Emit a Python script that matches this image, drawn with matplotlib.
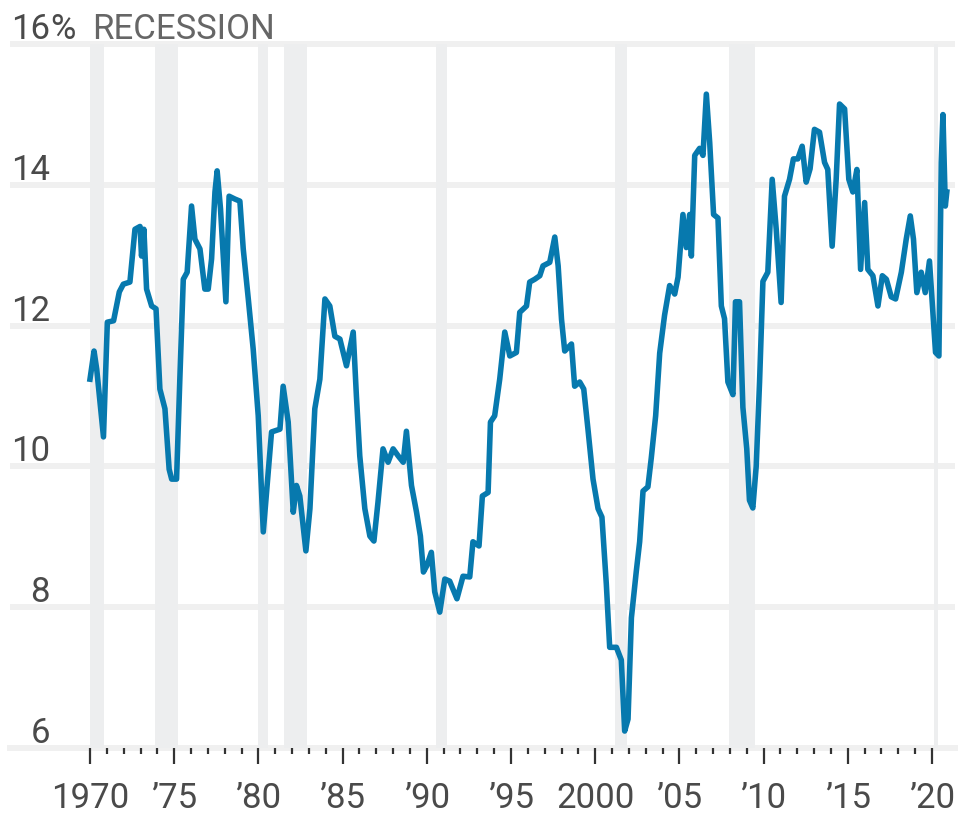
import matplotlib.pyplot as plt

plt.rcParams['font.family'] = ['Roboto', 'DejaVu Sans']

# traced series (decimal year, percent)
years = [1970.0, 1970.24, 1970.4, 1970.8, 1971.03, 1971.4, 1971.74, 1971.98, 1972.37, 1972.67,
         1972.97, 1973.06, 1973.2, 1973.36, 1973.66, 1973.92, 1974.15, 1974.45, 1974.7, 1974.85,
         1975.14, 1975.34, 1975.54, 1975.77, 1976.03, 1976.23, 1976.53, 1976.82, 1977.02, 1977.22,
         1977.42, 1977.55, 1977.75, 1978.07, 1978.26, 1978.6, 1978.9, 1979.1, 1979.4, 1979.69,
         1979.99, 1980.29, 1980.78, 1981.28, 1981.47, 1981.77, 1982.07, 1982.26, 1982.46, 1982.82,
         1983.06, 1983.35, 1983.65, 1983.95, 1984.24, 1984.54, 1984.84, 1985.23, 1985.63, 1985.82,
         1986.02, 1986.32, 1986.62, 1986.86, 1987.1, 1987.4, 1987.7, 1988.0, 1988.3, 1988.6,
         1988.79, 1989.09, 1989.39, 1989.62, 1989.8, 1990.0, 1990.27, 1990.47, 1990.77, 1991.07,
         1991.36, 1991.79, 1992.15, 1992.55, 1992.74, 1993.1, 1993.3, 1993.64, 1993.78, 1994.03,
         1994.33, 1994.63, 1994.93, 1995.32, 1995.52, 1995.92, 1996.11, 1996.41, 1996.71, 1996.9,
         1997.3, 1997.6, 1997.8, 1998.0, 1998.19, 1998.59, 1998.78, 1999.08, 1999.32, 1999.57,
         1999.87, 2000.17, 2000.4, 2000.66, 2000.86, 2001.26, 2001.55, 2001.75, 2001.95, 2002.15,
         2002.44, 2002.64, 2002.84, 2003.13, 2003.33, 2003.59, 2003.83, 2004.12, 2004.42, 2004.72,
         2004.92, 2005.21, 2005.41, 2005.61, 2005.71, 2005.91, 2006.2, 2006.4, 2006.6, 2006.8,
         2007.03, 2007.29, 2007.49, 2007.68, 2007.88, 2008.18, 2008.33, 2008.57, 2008.77, 2009.0,
         2009.16, 2009.36, 2009.56, 2009.76, 2009.96, 2010.25, 2010.51, 2010.75, 2011.04, 2011.24,
         2011.54, 2011.77, 2012.03, 2012.29, 2012.53, 2012.76, 2013.02, 2013.32, 2013.62, 2013.81,
         2014.07, 2014.31, 2014.51, 2014.81, 2015.06, 2015.3, 2015.54, 2015.76, 2016.0, 2016.19,
         2016.49, 2016.79, 2017.05, 2017.29, 2017.58, 2017.84, 2018.18, 2018.47, 2018.71, 2018.9,
         2019.1, 2019.36, 2019.6, 2019.85, 2020.05, 2020.21, 2020.41, 2020.55, 2020.65, 2020.79,
         2020.88]
values = [11.24, 11.64, 11.38, 10.42, 12.05, 12.07, 12.48, 12.59, 12.62, 13.37,
          13.41, 12.99, 13.37, 12.52, 12.28, 12.24, 11.1, 10.82, 9.96, 9.82,
          9.82, 11.28, 12.66, 12.76, 13.7, 13.23, 13.09, 12.52, 12.52, 12.95,
          13.9, 14.2, 13.66, 12.34, 13.84, 13.8, 13.77, 13.09, 12.38, 11.67,
          10.72, 9.07, 10.49, 10.53, 11.14, 10.63, 9.35, 9.73, 9.58, 8.8,
          9.4, 10.82, 11.24, 12.38, 12.28, 11.85, 11.81, 11.43, 11.91, 11.0,
          10.15, 9.4, 9.01, 8.94, 9.49, 10.25, 10.06, 10.25, 10.15, 10.06,
          10.5, 9.73, 9.35, 9.01, 8.5, 8.59, 8.78, 8.22, 7.93, 8.4,
          8.37, 8.12, 8.44, 8.43, 8.93, 8.87, 9.58, 9.63, 10.63, 10.72,
          11.24, 11.91, 11.57, 11.62, 12.19, 12.28, 12.62, 12.66, 12.71, 12.85,
          12.9, 13.26, 12.85, 12.09, 11.64, 11.74, 11.14, 11.2, 11.1, 10.53,
          9.82, 9.4, 9.28, 8.33, 7.43, 7.43, 7.25, 6.24, 6.41, 7.85,
          8.51, 8.93, 9.65, 9.71, 10.12, 10.72, 11.61, 12.15, 12.57, 12.45,
          12.69, 13.58, 13.11, 13.58, 12.99, 14.42, 14.52, 14.42, 15.29, 14.6,
          13.58, 13.53, 12.28, 12.1, 11.2, 11.02, 12.34, 12.34, 10.84, 10.25,
          9.52, 9.41, 10.0, 11.2, 12.63, 12.76, 14.08, 13.37, 12.33, 13.84,
          14.08, 14.37, 14.37, 14.55, 14.04, 14.23, 14.79, 14.75, 14.32, 14.22,
          13.13, 14.08, 15.15, 15.08, 14.08, 13.9, 14.22, 12.8, 13.75, 12.8,
          12.71, 12.28, 12.71, 12.66, 12.41, 12.38, 12.76, 13.23, 13.56, 13.23,
          12.47, 12.76, 12.47, 12.92, 12.19, 11.62, 11.57, 14.32, 15.0, 13.7,
          13.9]

rec_start = [1970.0, 1973.85, 1980.0, 1981.5, 1990.55, 2001.2, 2007.95, 2020.1]
rec_end = [1970.85, 1975.25, 1980.55, 1982.9, 1991.2, 2001.9, 2009.5, 2020.35]

ytick_vals = [6, 8, 10, 12, 14, 16]
major_years = list(range(1970, 2021, 5))
major_labels = ['1970', '’75', '’80', '’85', '’90', '’95', '2000', '’05', '’10', '’15', '’20']


def px2yr(px):
    return 1970 + (px - 90) / 16.84


fig = plt.figure(figsize=(9.58, 8.2), dpi=100)
ax = fig.add_axes([10 / 958, 64 / 820, 945 / 958, 746 / 820])
ax.set_xlim(px2yr(10), px2yr(955))
ax.set_ylim(5.9, 16.5)

grid_c = '#f0f0f0'
for s, e in zip(rec_start, rec_end):
    ax.fill_between([s, e], 6, 16, color='#edeeef', lw=0, zorder=1)
for v in ytick_vals[1:]:
    ax.axhline(v, color=grid_c, lw=4.3, zorder=0.5)

ax.plot(years, values, color='#0779ae', lw=4.0, zorder=3)

for sp in ['left', 'right', 'top']:
    ax.spines[sp].set_visible(False)
ax.spines['bottom'].set_position(('data', 6))
ax.spines['bottom'].set_color(grid_c)
ax.spines['bottom'].set_linewidth(4.3)
ax.spines['bottom'].set_zorder(0.5)

ax.set_yticks([])
ax.set_xticks(major_years)
ax.set_xticklabels(major_labels)
ax.set_xticks(range(1970, 2021), minor=True)
ax.tick_params(axis='x', which='major', length=11.5, width=1.6, color='#333333',
               pad=12, labelsize=25, labelcolor='#4a4a4a')
ax.tick_params(axis='x', which='minor', length=4.5, width=1.6, color='#333333')

for v in ytick_vals:
    ax.text(px2yr(50), v + 0.085, str(v), ha='right', va='baseline',
            fontsize=25, color='#4a4a4a')
ax.text(px2yr(50), 16.085, '%', ha='left', va='baseline', fontsize=25, color='#4a4a4a')
ax.text(px2yr(92), 16.085, 'RECESSION', ha='left', va='baseline', fontsize=25, color='#666666')

fig.savefig('out.png', dpi=100)
